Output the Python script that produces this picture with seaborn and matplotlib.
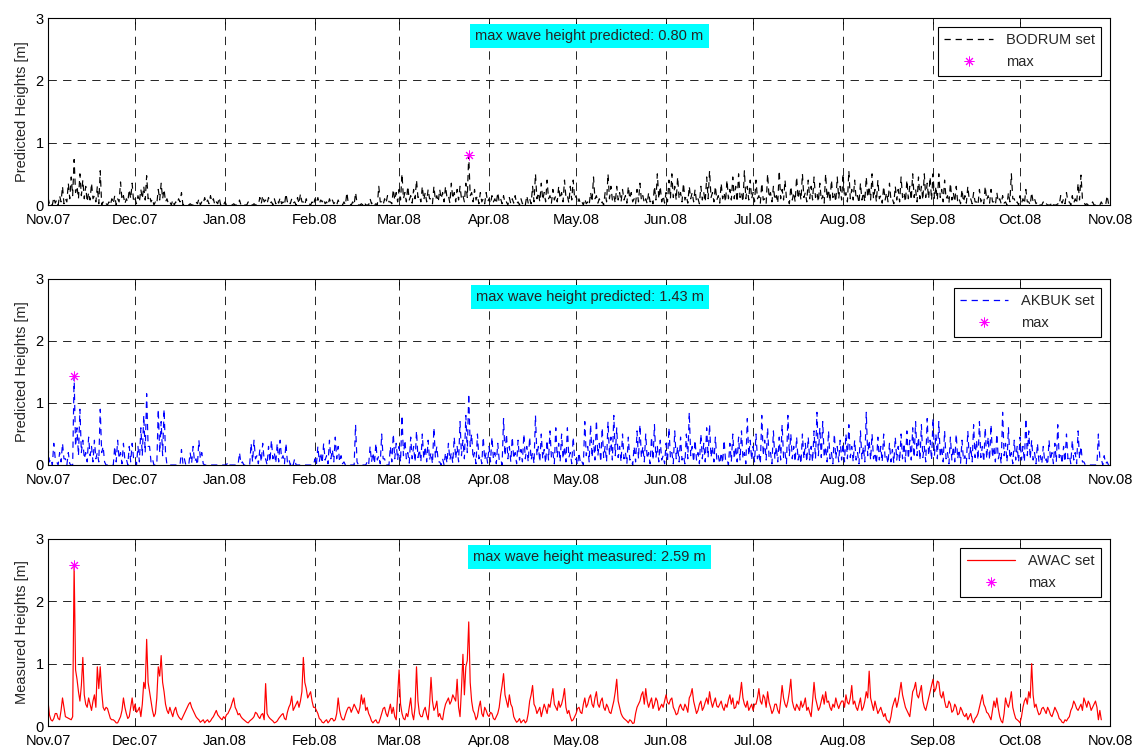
import numpy as np
import pandas as pd
import matplotlib
matplotlib.use("Agg")
import matplotlib.pyplot as plt
import matplotlib.dates as mdates
from matplotlib.lines import Line2D
import seaborn as sns

nan = np.nan
# ---------------- data: 1 Nov 2007 .. 31 Oct 2008 ----------------
# *_day : reading at 00:00 of each day, *_noon : reading at 12:00 of each day
start_date = "2007-11-01"
end_date = "2008-11-01"
tick_months = pd.date_range("2007-11-01", "2008-11-01", freq="MS")

bodrum_day = [
    0.12,0.05,0.12,0.08,0.15,0.30,0.10,0.35,0.45,0.73,0.30,0.50,0.40,0.30,0.20,0.35,0.15,0.30,0.55,0.05,
    0.02,0.05,0.10,0.15,0.10,0.37,0.15,0.10,0.25,0.35,
    0.10,0.15,0.25,0.30,0.47,0.15,0.10,0.05,0.25,0.35,0.25,0.10,0.05,0.08,0.05,0.10,0.20,0.02,0.00,0.02,
    0.00,0.05,0.10,0.05,0.12,0.08,0.15,0.10,0.05,0.12,0.03,
    0.05,0.00,0.00,0.02,0.00,0.08,0.02,0.00,0.05,0.00,0.02,0.00,0.12,0.15,0.08,0.12,0.05,0.10,0.08,0.12,
    0.05,0.18,0.08,0.10,0.05,0.12,0.18,0.05,0.10,0.02,0.05,
    0.10,0.12,0.08,0.10,0.05,0.10,0.08,0.05,0.08,0.02,0.05,0.20,0.02,0.05,0.20,0.00,0.02,0.05,0.00,0.10,
    0.05,0.02,0.30,0.05,0.10,0.15,0.05,0.25,0.20,
    0.25,0.50,0.20,0.30,0.15,0.25,0.40,0.15,0.30,0.20,0.25,0.10,0.30,0.15,0.25,0.20,0.30,0.15,0.35,0.20,
    0.25,0.30,0.15,0.35,0.80,0.20,0.25,0.15,0.20,0.10,0.20,
    0.10,0.15,0.10,0.20,0.10,0.15,0.05,0.12,0.10,0.15,0.05,0.10,0.05,0.15,0.10,0.30,0.50,0.20,0.35,0.20,
    0.40,0.15,0.25,0.15,0.30,0.20,0.40,0.15,0.30,0.40,
    0.15,0.10,0.05,0.10,0.05,0.20,0.45,0.15,0.10,0.05,0.20,0.50,0.30,0.15,0.30,0.20,0.25,0.15,0.30,0.20,
    0.10,0.25,0.35,0.15,0.10,0.20,0.10,0.30,0.50,0.30,0.15,
    0.20,0.40,0.50,0.30,0.45,0.20,0.35,0.15,0.30,0.20,0.25,0.10,0.30,0.20,0.45,0.55,0.20,0.30,0.15,0.35,
    0.20,0.40,0.25,0.45,0.30,0.50,0.20,0.55,0.30,0.40,
    0.20,0.40,0.15,0.35,0.10,0.50,0.20,0.30,0.15,0.55,0.25,0.40,0.10,0.30,0.20,0.45,0.25,0.50,0.20,0.40,
    0.30,0.45,0.20,0.35,0.15,0.50,0.25,0.40,0.20,0.45,0.30,
    0.50,0.20,0.55,0.25,0.40,0.15,0.35,0.20,0.45,0.30,0.50,0.25,0.40,0.15,0.30,0.20,0.35,0.10,0.30,0.25,
    0.45,0.20,0.40,0.30,0.50,0.25,0.45,0.30,0.50,0.35,0.45,
    0.50,0.30,0.50,0.25,0.40,0.15,0.35,0.20,0.30,0.10,0.25,0.15,0.30,0.10,0.20,0.05,0.25,0.10,0.30,0.15,
    0.25,0.05,0.20,0.10,0.15,0.05,0.20,0.50,0.10,0.05,
    0.15,0.10,0.25,0.05,0.20,0.10,0.05,0.00,0.05,0.02,0.00,0.05,0.00,0.02,0.15,0.10,0.20,0.05,0.15,0.10,
    0.35,0.48,0.05,0.02,0.00,0.05,0.00,0.02,0.05,0.00,0.15,
]
bodrum_noon = [
    0.02,0.00,0.03,0.00,0.05,0.02,0.05,0.10,0.15,0.20,0.10,0.15,0.10,0.05,0.08,0.10,0.05,0.02,0.00,0.00,
    0.00,0.00,0.02,0.00,0.05,0.08,0.02,0.05,0.10,0.05,
    0.02,0.05,0.10,0.08,0.10,0.05,0.00,0.02,0.08,0.10,0.05,0.02,0.00,0.00,0.02,0.05,0.00,0.00,0.00,0.00,
    0.00,0.02,0.00,0.02,0.03,0.02,0.05,0.00,0.02,0.00,0.00,
    0.00,0.00,0.00,0.00,0.00,0.00,0.00,0.00,0.00,0.00,0.00,0.00,0.02,0.05,0.02,0.03,0.00,0.02,0.03,0.02,
    0.00,0.05,0.02,0.03,0.00,0.02,0.05,0.00,0.02,0.00,0.00,
    0.03,0.02,0.05,0.02,0.00,0.03,0.02,0.00,0.02,0.00,0.00,0.02,0.00,0.00,0.03,0.00,0.00,0.00,0.00,0.02,
    0.00,0.00,0.05,0.00,0.03,0.05,0.02,0.08,0.05,
    0.08,0.10,0.05,0.08,0.03,0.10,0.12,0.05,0.08,0.05,0.10,0.02,0.08,0.05,0.10,0.05,0.12,0.03,0.10,0.05,
    0.08,0.10,0.05,0.12,0.15,0.05,0.08,0.02,0.05,0.02,0.05,
    0.02,0.05,0.02,0.05,0.02,0.03,0.00,0.02,0.03,0.02,0.00,0.02,0.00,0.03,0.02,0.05,0.10,0.05,0.08,0.05,
    0.10,0.03,0.08,0.05,0.10,0.05,0.12,0.03,0.08,0.10,
    0.03,0.02,0.00,0.02,0.00,0.05,0.10,0.03,0.02,0.00,0.05,0.10,0.08,0.03,0.08,0.05,0.08,0.03,0.10,0.05,
    0.02,0.05,0.08,0.03,0.02,0.05,0.02,0.08,0.10,0.05,0.03,
    0.05,0.10,0.12,0.08,0.10,0.05,0.08,0.03,0.10,0.05,0.05,0.02,0.08,0.05,0.10,0.12,0.05,0.08,0.03,0.10,
    0.05,0.10,0.08,0.10,0.05,0.12,0.05,0.10,0.08,0.10,
    0.05,0.10,0.03,0.08,0.02,0.12,0.05,0.08,0.03,0.10,0.08,0.10,0.02,0.08,0.05,0.10,0.08,0.12,0.05,0.10,
    0.08,0.12,0.05,0.08,0.03,0.10,0.05,0.12,0.05,0.10,0.08,
    0.12,0.05,0.10,0.08,0.10,0.03,0.08,0.05,0.12,0.08,0.10,0.05,0.10,0.03,0.08,0.05,0.08,0.02,0.08,0.05,
    0.12,0.05,0.10,0.08,0.12,0.05,0.10,0.08,0.12,0.10,0.08,
    0.10,0.08,0.12,0.05,0.10,0.03,0.08,0.05,0.05,0.02,0.05,0.03,0.08,0.02,0.05,0.00,0.05,0.02,0.08,0.03,
    0.05,0.00,0.05,0.02,0.03,0.00,0.05,0.10,0.02,0.00,
    0.03,0.02,0.05,0.00,0.05,0.02,0.00,0.00,0.00,0.00,0.00,0.00,0.00,0.00,0.03,0.02,0.05,0.00,0.03,0.02,
    0.08,0.10,0.00,0.00,0.00,0.00,0.00,0.00,0.00,0.00,0.02,
]

akbuk_day = [
    0.30,0.10,0.35,0.05,0.20,0.35,0.10,0.20,0.00,1.43,0.60,0.90,0.40,0.20,0.45,0.30,0.40,0.20,0.90,0.30,
    0.00,0.00,0.00,0.30,0.40,0.20,0.35,0.10,0.30,0.35,
    0.10,0.30,0.60,0.80,1.15,0.30,0.10,0.00,0.90,0.70,0.90,0.00,0.00,0.00,0.00,0.00,0.25,0.10,0.00,0.20,
    0.30,0.10,0.40,0.20,0.00,0.00,0.00,0.00,0.00,0.00,0.00,
    0.00,0.05,0.00,0.00,0.00,0.20,0.05,0.00,0.00,0.35,0.40,0.15,0.25,0.35,0.10,0.30,0.40,0.20,0.35,0.40,
    0.15,0.35,0.10,0.05,0.10,0.00,0.00,0.00,0.00,0.00,0.00,
    0.10,0.30,0.20,0.35,0.15,0.40,0.25,0.45,0.30,0.15,0.05,0.00,0.00,0.00,0.65,0.00,0.00,0.00,0.05,0.30,
    0.20,0.35,0.15,0.50,0.10,0.00,0.30,0.50,0.35,
    0.30,0.80,0.40,0.20,0.45,0.30,0.55,0.25,0.50,0.30,0.40,0.20,0.60,0.30,0.05,0.10,0.20,0.35,0.20,0.45,
    0.30,0.70,0.40,0.80,1.15,0.50,0.20,0.50,0.15,0.45,0.20,
    0.30,0.45,0.20,0.35,0.10,0.75,0.50,0.30,0.45,0.20,0.40,0.25,0.50,0.30,0.45,0.20,0.80,0.30,0.50,0.25,
    0.40,0.55,0.20,0.60,0.35,0.50,0.30,0.60,0.20,0.45,
    0.10,0.20,0.05,0.70,0.30,0.65,0.40,0.72,0.35,0.60,0.30,0.70,0.45,0.80,0.60,0.30,0.50,0.20,0.45,0.10,
    0.30,0.55,0.65,0.30,0.50,0.20,0.45,0.65,0.30,0.40,0.15,
    0.35,0.60,0.20,0.55,0.30,0.45,0.15,0.50,0.85,0.30,0.40,0.20,0.50,0.35,0.60,0.65,0.30,0.45,0.15,0.20,
    0.40,0.10,0.35,0.50,0.30,0.45,0.55,0.20,0.75,0.40,
    0.30,0.50,0.20,0.80,0.40,0.60,0.20,0.55,0.30,0.45,0.65,0.20,0.80,0.50,0.30,0.45,0.20,0.50,0.35,0.45,
    0.30,0.55,0.85,0.60,0.70,0.30,0.55,0.20,0.50,0.30,0.40,
    0.35,0.50,0.65,0.30,0.40,0.20,0.55,0.30,0.85,0.40,0.50,0.20,0.45,0.30,0.50,0.15,0.35,0.25,0.45,0.30,
    0.50,0.35,0.55,0.40,0.60,0.70,0.45,0.65,0.30,0.75,0.40,
    0.75,0.50,0.70,0.30,0.55,0.20,0.45,0.30,0.50,0.25,0.40,0.15,0.55,0.30,0.65,0.40,0.70,0.30,0.60,0.45,
    0.65,0.30,0.50,0.20,0.85,0.35,0.60,0.20,0.40,0.30,
    0.45,0.30,0.75,0.55,0.40,0.20,0.35,0.15,0.30,0.10,0.40,0.20,0.35,0.65,0.20,0.30,0.50,0.15,0.40,0.20,
    0.55,0.30,0.05,0.00,0.00,0.00,0.00,0.50,0.10,0.15,0.05,
]
akbuk_noon = [
    0.05,0.00,0.10,0.00,0.05,0.10,0.00,0.02,0.00,0.30,0.15,0.20,0.10,0.05,0.15,0.05,0.10,0.05,0.20,0.05,
    0.00,0.00,0.00,0.05,0.10,0.02,0.08,0.00,0.05,0.10,
    0.00,0.05,0.15,0.20,0.30,0.05,0.00,0.00,0.20,0.15,0.20,0.00,0.00,0.00,0.00,0.00,0.02,0.00,0.00,0.03,
    0.05,0.00,0.10,0.02,0.00,0.00,0.00,0.00,0.00,0.00,0.00,
    0.00,0.00,0.00,0.00,0.00,0.02,0.00,0.00,0.00,0.05,0.10,0.02,0.05,0.08,0.00,0.05,0.10,0.03,0.05,0.10,
    0.02,0.05,0.00,0.00,0.00,0.00,0.00,0.00,0.00,0.00,0.00,
    0.00,0.05,0.03,0.08,0.02,0.10,0.05,0.10,0.05,0.02,0.00,0.00,0.00,0.00,0.05,0.00,0.00,0.00,0.00,0.05,
    0.02,0.08,0.02,0.10,0.00,0.00,0.05,0.10,0.08,
    0.05,0.15,0.10,0.03,0.10,0.05,0.12,0.05,0.10,0.05,0.08,0.02,0.12,0.05,0.00,0.00,0.03,0.08,0.03,0.10,
    0.05,0.15,0.10,0.20,0.30,0.10,0.02,0.10,0.02,0.08,0.03,
    0.05,0.10,0.02,0.08,0.00,0.15,0.10,0.05,0.10,0.02,0.08,0.05,0.10,0.05,0.08,0.02,0.15,0.05,0.10,0.03,
    0.08,0.12,0.02,0.12,0.05,0.10,0.05,0.12,0.02,0.08,
    0.00,0.02,0.00,0.15,0.05,0.12,0.08,0.15,0.05,0.12,0.05,0.15,0.08,0.15,0.12,0.05,0.10,0.02,0.08,0.00,
    0.05,0.10,0.12,0.05,0.10,0.02,0.08,0.12,0.05,0.08,0.02,
    0.05,0.12,0.02,0.10,0.05,0.08,0.02,0.10,0.15,0.05,0.08,0.02,0.10,0.05,0.12,0.12,0.05,0.08,0.02,0.03,
    0.08,0.00,0.05,0.10,0.05,0.08,0.10,0.02,0.15,0.08,
    0.05,0.10,0.02,0.15,0.08,0.12,0.02,0.10,0.05,0.08,0.12,0.02,0.15,0.10,0.05,0.08,0.02,0.10,0.05,0.08,
    0.05,0.10,0.15,0.12,0.12,0.05,0.10,0.02,0.10,0.05,0.08,
    0.05,0.10,0.12,0.05,0.08,0.02,0.10,0.05,0.15,0.08,0.10,0.02,0.08,0.05,0.10,0.02,0.05,0.03,0.08,0.05,
    0.10,0.05,0.10,0.08,0.12,0.15,0.08,0.12,0.05,0.15,0.08,
    0.15,0.10,0.12,0.05,0.10,0.02,0.08,0.05,0.10,0.03,0.08,0.02,0.10,0.05,0.12,0.08,0.12,0.05,0.10,0.08,
    0.12,0.05,0.10,0.02,0.15,0.05,0.10,0.02,0.08,0.05,
    0.08,0.05,0.15,0.10,0.08,0.02,0.05,0.02,0.05,0.00,0.08,0.02,0.05,0.12,0.02,0.05,0.10,0.02,0.08,0.02,
    0.10,0.05,0.00,0.00,0.00,0.00,0.00,0.10,0.00,0.02,0.00,
]

awac_day = [
    0.40,0.10,0.12,0.20,0.10,0.45,0.15,nan,0.10,2.59,0.75,0.40,1.10,0.35,0.45,0.25,0.50,0.95,0.95,0.30,
    0.30,0.20,0.10,0.08,0.05,0.15,0.45,0.20,0.15,0.45,
    0.35,0.25,0.15,0.70,1.39,0.55,0.25,0.20,0.95,1.13,0.55,0.25,0.30,0.15,0.30,0.15,0.10,nan,0.30,0.38,
    0.25,0.15,0.10,0.08,0.05,0.10,0.08,0.15,0.25,0.15,0.10,
    0.12,0.20,0.30,0.45,0.25,0.20,0.12,0.08,0.05,0.10,0.15,0.20,0.12,0.20,0.68,0.15,0.10,0.05,0.08,0.15,
    0.20,0.10,0.30,0.48,0.30,0.40,0.40,1.10,0.60,0.50,0.40,
    0.30,0.20,0.10,0.05,0.10,0.08,0.12,0.10,0.45,0.15,0.10,0.25,0.30,0.28,0.30,0.20,0.50,0.45,0.30,0.15,
    0.05,0.10,0.05,0.20,0.30,0.15,0.35,0.30,0.10,
    0.90,0.20,0.10,0.15,0.45,0.10,0.95,0.20,0.15,0.30,0.10,0.78,0.25,0.40,0.20,0.10,0.35,0.45,0.40,0.45,
    0.75,0.15,1.15,0.95,1.67,0.40,0.20,0.15,0.40,0.15,0.25,
    0.15,0.20,0.10,0.20,0.50,0.84,0.40,0.50,0.30,0.10,0.08,0.05,0.10,0.08,0.40,0.65,0.30,0.25,0.15,0.35,
    0.20,0.30,0.60,0.30,0.40,0.35,0.60,0.20,0.15,0.10,
    0.20,0.30,0.20,0.45,0.35,0.50,0.30,0.55,0.30,0.45,0.25,0.30,0.20,0.40,0.75,0.30,0.15,0.10,0.05,0.08,
    0.05,0.30,0.40,0.55,0.60,0.30,0.45,0.35,0.40,0.30,0.30,
    0.50,0.35,0.45,0.25,0.20,0.35,0.25,0.30,0.45,0.60,0.30,0.25,0.40,0.30,0.45,0.55,0.30,0.45,0.30,0.40,
    0.25,0.30,0.50,0.45,0.30,0.35,0.70,0.35,0.40,0.30,
    0.25,0.35,0.60,0.35,0.45,0.55,0.30,0.25,0.35,0.20,0.65,0.35,0.40,0.75,0.30,0.35,0.25,0.30,0.45,0.30,
    0.15,0.70,0.35,0.30,0.50,0.55,0.40,0.25,0.30,0.35,0.35,
    0.40,0.50,0.35,0.65,0.40,0.25,0.45,0.30,0.55,0.88,0.35,0.40,0.20,0.30,0.15,0.10,0.05,0.30,0.45,0.40,
    0.70,0.40,0.25,0.15,0.55,0.70,0.45,0.65,0.30,0.35,0.55,
    0.75,0.60,0.70,0.45,0.40,0.30,0.35,0.25,0.30,0.20,0.25,0.15,0.10,0.20,0.05,0.15,0.30,0.50,0.30,0.20,
    0.10,0.40,0.45,0.15,0.05,0.45,0.30,0.55,0.20,0.10,
    0.05,0.30,0.45,0.55,1.00,0.30,0.25,0.20,0.30,0.20,0.25,0.15,0.30,0.20,0.10,0.05,0.08,0.15,0.30,0.35,
    0.25,0.35,0.45,0.30,0.35,0.30,0.40,0.10,0.10,nan,nan,
]
awac_noon = [
    0.18,0.08,0.20,0.12,0.25,0.30,nan,nan,0.15,0.90,0.55,0.65,0.50,0.30,0.35,0.40,0.30,0.60,0.55,0.25,
    0.28,0.12,0.10,0.05,0.10,0.25,0.30,0.12,0.30,0.25,
    0.22,0.30,0.35,0.60,0.70,0.40,0.15,0.45,0.80,0.70,0.35,0.20,0.22,0.25,0.20,0.12,nan,nan,0.35,0.30,
    0.20,0.12,0.06,0.10,0.08,0.06,0.12,0.20,0.18,0.12,0.15,
    0.18,0.25,0.38,0.30,0.18,0.15,0.10,0.06,0.08,0.12,0.22,0.15,0.18,0.10,0.20,0.12,0.08,0.06,0.12,0.18,
    0.12,0.22,0.35,0.25,0.35,0.30,0.55,0.70,0.45,0.55,0.30,
    0.25,0.12,0.06,0.08,0.05,0.12,0.08,0.20,0.25,0.10,0.18,0.30,0.22,0.35,0.25,0.30,0.35,0.25,0.20,0.08,
    0.08,0.05,0.12,0.28,0.20,0.25,0.20,0.15,0.50,
    0.35,0.12,0.20,0.30,0.20,0.30,0.40,0.15,0.25,0.18,0.35,0.40,0.30,0.15,0.12,0.25,0.40,0.35,0.50,0.40,
    0.30,0.60,0.50,1.05,0.70,0.25,0.10,0.30,0.20,0.30,0.18,
    0.22,0.12,0.15,0.30,0.65,0.50,0.30,0.35,0.15,0.06,0.12,0.08,0.05,0.20,0.50,0.35,0.20,0.30,0.25,0.28,
    0.35,0.45,0.35,0.25,0.30,0.45,0.30,0.25,0.08,0.15,
    0.28,0.22,0.35,0.30,0.45,0.35,0.45,0.35,0.40,0.30,0.35,0.22,0.30,0.55,0.40,0.20,0.12,0.08,0.10,0.04,
    0.20,0.35,0.50,0.35,0.40,0.38,0.28,0.45,0.25,0.35,0.40,
    0.38,0.42,0.30,0.18,0.30,0.28,0.35,0.22,0.50,0.40,0.20,0.35,0.25,0.38,0.35,0.40,0.38,0.32,0.35,0.30,
    0.35,0.42,0.35,0.28,0.40,0.50,0.45,0.30,0.25,0.35,
    0.35,0.45,0.40,0.50,0.30,0.38,0.20,0.35,0.25,0.40,0.45,0.30,0.55,0.40,0.25,0.30,0.40,0.35,0.25,0.22,
    0.40,0.45,0.25,0.40,0.35,0.38,0.30,0.35,0.45,0.28,0.40,
    0.30,0.38,0.45,0.35,0.30,0.35,0.25,0.40,0.45,0.45,0.25,0.30,0.25,0.22,0.20,0.08,0.15,0.38,0.30,0.55,
    0.50,0.30,0.20,0.35,0.60,0.50,0.55,0.40,0.25,0.45,0.65,
    0.55,0.72,0.50,0.55,0.30,0.40,0.22,0.35,0.18,0.30,0.18,0.20,0.15,0.10,0.12,0.20,0.40,0.35,0.22,0.15,
    0.25,0.30,0.28,0.08,0.20,0.35,0.40,0.30,0.12,0.08,
    0.15,0.40,0.35,0.45,0.50,0.35,0.18,0.28,0.25,0.30,0.18,0.22,0.25,0.12,0.06,0.10,0.12,0.25,0.40,0.28,
    0.30,0.25,0.38,0.40,0.25,0.35,0.30,0.25,nan,nan,nan,
]

series = [
    ("BODRUM set", bodrum_day, bodrum_noon, "black", (0, (4.5, 3.5)), "Predicted Heights [m]", "predicted"),
    ("AKBUK set", akbuk_day, akbuk_noon, "blue", (0, (4.5, 3.5)), "Predicted Heights [m]", "predicted"),
    ("AWAC set", awac_day, awac_noon, "red", "-", "Measured Heights [m]", "measured"),
]

# ---------------- style ----------------
sns.set_style("white")
plt.rcParams["font.family"] = ["Liberation Sans", "DejaVu Sans"]
plt.rcParams["lines.scale_dashes"] = False

W, H = 1142, 747
fig = plt.figure(figsize=(W / 100, H / 100), dpi=100)
left = 48 / W
width = (1110 - 48) / W
panels = [(18, 205), (279, 465), (539, 726)]

days = pd.date_range(start_date, periods=366, freq="D")
ASTER = (8, 2, 0)

for (name, vday, vnoon, color, ls, ylabel, kind), (ytop, ybot) in zip(series, panels):
    if len(vday) != 366 or len(vnoon) != 366:
        raise ValueError(f"{name}: {len(vday)} {len(vnoon)}")
    ax = fig.add_axes([left, 1 - ybot / H, width, (ybot - ytop) / H])
    df = pd.concat([
        pd.DataFrame({"time": days, "h": np.array(vday, dtype=float)}),
        pd.DataFrame({"time": days + pd.Timedelta(hours=12), "h": np.array(vnoon, dtype=float)}),
    ]).sort_values("time").reset_index(drop=True)
    sns.lineplot(data=df, x="time", y="h", ax=ax, color=color, linestyle=ls,
                 linewidth=0.85, estimator=None, legend=False)
    imax = int(np.nanargmax(df["h"].values))
    hmax = df["h"].values[imax]
    ax.plot([df["time"].iloc[imax]], [hmax], linestyle="none", marker=ASTER,
            markersize=7, markeredgewidth=0.7, color="magenta", zorder=5)

    ax.set_xlim(pd.Timestamp(start_date), pd.Timestamp(end_date))
    ax.set_ylim(0, 3)
    ax.set_yticks([0, 1, 2, 3])
    ax.set_xticks(tick_months)
    ax.xaxis.set_major_formatter(mdates.DateFormatter("%b.%y"))
    ax.set_xlabel("")
    ax.set_ylabel(ylabel, fontsize=10.5, labelpad=5)
    ax.tick_params(axis="both", direction="in", length=4, width=0.6, labelsize=10.5,
                   top=True, right=True, colors="black")
    ax.tick_params(axis="x", pad=5.5)
    ax.tick_params(axis="y", pad=3)
    ax.grid(True, color="black", linestyle=(0, (6, 4.5)), linewidth=0.6)
    for sp in ax.spines.values():
        sp.set_color("black")
        sp.set_linewidth(0.8)
        sp.set_visible(True)

    ax.text(0.51, 0.905, f"max wave height {kind}: {hmax:.2f} m", transform=ax.transAxes,
            ha="center", va="center", fontsize=10.5,
            bbox=dict(facecolor="cyan", edgecolor="none", boxstyle="square,pad=0.35"))

    handles = [Line2D([], [], color=color, linestyle=ls, linewidth=0.9),
               Line2D([], [], color="magenta", linestyle="none", marker=ASTER,
                      markersize=7, markeredgewidth=0.7)]
    leg = ax.legend(handles, [name, "max"], loc="upper right", fontsize=10.5,
                    frameon=True, fancybox=False, edgecolor="black", framealpha=1,
                    handlelength=3.3, borderaxespad=0.6, labelspacing=0.55,
                    borderpad=0.45, handletextpad=0.9)
    leg.get_frame().set_linewidth(0.8)

fig.savefig("out.png", dpi=100)
